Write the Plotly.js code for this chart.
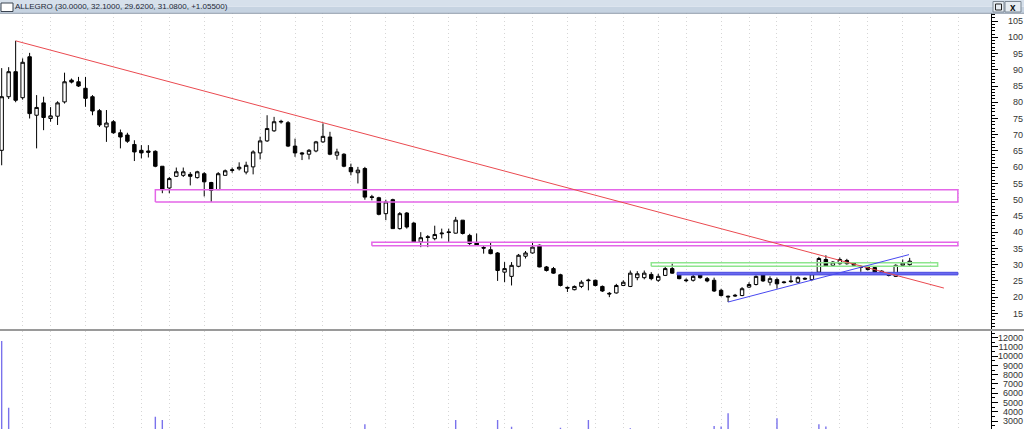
<!DOCTYPE html>
<html>
<head>
<meta charset="utf-8">
<script src="https://cdn.plot.ly/plotly-3.0.1.min.js"></script>
<style>
html,body{margin:0;padding:0;background:#fff;}
#chart{width:1024px;height:429px;}
</style>
</head>
<body>
<div id="chart"></div>
<script>
// ---- Data (weekly candles, index 0..130) ----
const opens = [65.2,81.7,89.4,81.4,94,76,79.8,75,75.7,80.1,86.8,86.3,84.3,81.7,77.4,72.4,74,70.6,69.9,67,
65.2,65,64.9,60.3,53.6,57.2,57.5,57.8,56.8,58,55.3,53.1,57.5,59,59.5,58.5,60.1,64.4,68.1,71.2,
73.9,73.7,66.5,64.4,64,65,67.8,69.3,63.7,64,59.9,58.3,59.6,50.9,50.6,45.7,50,41.1,45.9,42.8,
37,38.6,38,39.5,40.1,39.7,43.7,39,36.7,35.3,34.6,33.6,27.7,26.4,29.5,32.6,33.6,36,29.3,28.8,
26.9,23.0,22.3,23.3,25.3,25.2,23.3,21.2,21.3,23.6,23.3,26,26,27,25.2,26.7,28.8,27,25.3,25.2,
27,25.7,25.2,22.1,20.3,20.6,20.5,23.1,23.9,27,24.6,25.4,24.7,25,24.6,25.8,25.4,27.7,31.6,29.8,
30.3,31.3,30.5,29.4,29.3,29.1,28,27.4,26.4,29.8,30.0];
const highs = [90.5,90.8,98.9,93.5,95.2,82.2,81.7,78.5,80.3,89.1,87.3,87.8,87.8,82.2,77.9,77.6,74.5,71.6,70.6,68.3,
66.8,66.8,65.2,60.3,57,59.9,59.9,58.5,58.9,58.5,55.5,58.5,59.3,59.9,61.5,61.7,65.2,69.4,76,75.5,
74.6,74.2,68.8,64.7,65.6,68.1,73.5,70.9,65.7,64.3,61.1,60.1,60.1,51.5,50.9,50,50.3,46.2,46.2,43.1,
40,39.1,42,41.1,41.1,44.7,43.7,39.5,39.6,36,36.7,33.9,30.8,30.8,33.3,34.2,37,36.2,29.6,29.3,
27.2,23.3,23.6,25.2,25.7,25.4,23.6,21.6,24.1,25.2,28.2,28,28.2,27.7,27.2,29.3,30.3,27.2,25.8,27,
27.4,26.2,26,22.6,20.5,21,23.1,24.6,26.7,27.4,26.4,26,25,26.7,26.4,26.1,27.8,32.4,32.9,31.1,
32.2,31.8,30.8,29.8,29.6,29.4,28.3,27.7,30.1,31.6,32.1];
const lows = [60.6,81,80,80.8,75,65.8,71.4,74,73,79.6,85.8,84.7,78.6,76,72.4,67.8,70.3,65.8,67.5,61.9,
62.7,63,60,52,52,57,57,54.4,56.5,51,49.3,53,57.5,58.3,59,57.8,57.8,62.4,67.8,70.9,
73.4,66.2,63.2,62.2,62.4,64.6,67.5,63.7,62.3,60,57.5,55,50,49.8,45.2,43.7,41.1,40.8,41.1,36.7,
35.4,35.4,37.5,38.1,37,39.6,39.3,35.8,35.8,33.4,33.2,25,24.6,23.6,29.2,31.9,33.4,29.2,27.9,27.2,
23.3,21.6,22.1,22.8,22.1,23.3,21.6,20,21.1,23.4,23.1,25.2,25.5,25.2,24.7,26.5,27.2,25.5,24.6,24.8,
25.7,24.6,21.6,20.2,18.5,20.1,20.3,22.8,23.6,24.7,23.6,22.6,24.2,24.4,24.3,25.3,25.1,27.2,29.3,29.5,
30.0,30.0,29.5,27.8,28.2,27.4,27.1,26.4,26.2,29.5,29.62];
const closes = [81.7,89.4,80.6,92.3,76.5,78.4,75.3,75.8,79.8,86.3,86.2,85,81.2,77.3,73,73.6,70.6,69.3,68,64.7,
64.4,64.6,60.3,53.1,56.5,58.6,58.6,57.2,58.6,55.5,52.9,58,58.9,59.2,60,60.6,64.7,68.1,71.9,74,
74.1,66.5,64.4,64.1,65.2,67.8,69.5,64,64.7,60.3,58.6,59.1,50.8,50.7,45.5,49.3,41.1,45.7,41.6,37,
38.3,38.4,39.3,39.7,39.9,43.7,39.6,36.5,36,35.1,33.4,28.2,28.8,29.8,32.9,33.6,35.4,29.3,28.2,27.4,
23.6,22.8,23.3,24.6,25.1,23.6,21.9,21.0,23.6,24.6,27.4,27.2,27.4,25.7,26.4,28.8,27.4,25.7,25.1,26.4,
26,25,21.9,20.5,20.1,20.4,22.6,23.9,26.4,25,25.7,24.1,24.5,24.8,26,25.6,27.2,31.9,29.5,30.8,
31.6,30.3,29.8,29.2,28.5,27.7,27.4,26.7,29.8,30.5,31.08];
const volumes = [11640,4440,1900,1700,1500,1800,1400,1300,1200,1600,1500,1300,1400,1200,1500,1700,1300,1200,1400,1600,
1500,1800,3470,3110,1900,1300,1100,1200,1000,1500,1700,1600,1200,1100,1000,1300,1400,1200,1500,1300,
1100,1600,1400,1200,1000,1100,1300,1500,1200,1400,1600,1500,2650,1400,1800,1600,2000,1700,1500,1900,
1600,1300,1200,1100,1400,3110,1500,1300,1200,1400,1600,3110,1900,2390,1700,1500,1400,1900,1300,1200,
2280,1500,1300,1200,3110,1400,1300,1200,1100,1300,2210,1400,1200,1100,1000,1300,1200,1500,1200,1100,
1300,1500,2460,2400,3830,1600,1400,1300,1500,1200,1400,3290,1300,1200,1100,1000,1300,2650,2400,1600,
1400,1300,1200,1500,1300,1400,1200,1100,1800,1500,1700];
const idx = opens.map((_, i) => i);

// month boundaries (candle index) used as vertical dotted grid lines
const monthStarts = [3,7,12,16,20,24,29,33,37,42,46,50,55,59,64,68,72,76,81,85,89,94,98,103,107,111,116,120,124,129,133,137];
const priceTicks = [15,20,25,30,35,40,45,50,55,60,65,70,75,80,85,90,95,100,105];
const volTicks = [3000,4000,5000,6000,7000,8000,9000,10000,11000,12000];
const volTickText = volTicks.map(String);

// drawn studies (candle index, price)
const redTrendX = [2, 134.9], redTrendY = [98.9, 22.8];
const blueTrendX = [104, 129.9], blueTrendY = [18.5, 33.1];
const zoneUpperX = [22, 136.9], zoneUpperY = [49.3, 53.1];
const zoneMidX = [53, 136.9], zoneMidY = [35.8, 36.9];
const zoneGreenX = [93, 134], zoneGreenY = [29.5, 30.6];
const zoneBlueX = [96.7, 136.9], zoneBlueY = [26.85, 27.65];

const titleText = 'ALLEGRO (30.0000, 32.1000, 29.6200, 31.0800, +1.05500)';

function rectTrace(xs, ys, color, width, fill) {
  return {
    type: 'scatter', mode: 'lines', xaxis: 'x', yaxis: 'y',
    x: [xs[0], xs[1], xs[1], xs[0], xs[0]],
    y: [ys[0], ys[0], ys[1], ys[1], ys[0]],
    line: {color: color, width: width},
    fill: fill ? 'toself' : 'none', fillcolor: fill || 'rgba(0,0,0,0)',
    hoverinfo: 'skip', showlegend: false
  };
}

const traces = [
  {
    type: 'candlestick', x: idx, open: opens, high: highs, low: lows, close: closes,
    xaxis: 'x', yaxis: 'y',
    increasing: {line: {color: '#000', width: 1}, fillcolor: '#ffffff'},
    decreasing: {line: {color: '#000', width: 1}, fillcolor: '#000000'},
    whiskerwidth: 0, hoverinfo: 'skip', showlegend: false
  },
  rectTrace(zoneUpperX, zoneUpperY, '#e466e8', 1.5),
  rectTrace(zoneMidX, zoneMidY, '#e466e8', 1.5),
  rectTrace(zoneGreenX, zoneGreenY, '#8ee68e', 1.5),
  rectTrace(zoneBlueX, zoneBlueY, '#4a4ae0', 1, '#6a6aee'),
  {type: 'scatter', mode: 'lines', x: redTrendX, y: redTrendY, xaxis: 'x', yaxis: 'y',
   line: {color: '#ea4a50', width: 1}, hoverinfo: 'skip', showlegend: false},
  {type: 'scatter', mode: 'lines', x: blueTrendX, y: blueTrendY, xaxis: 'x', yaxis: 'y',
   line: {color: '#4848f0', width: 1}, hoverinfo: 'skip', showlegend: false},
  {type: 'bar', x: idx, y: volumes, xaxis: 'x', yaxis: 'y2', width: 0.2,
   marker: {color: '#7a72ec', line: {width: 0}}, hoverinfo: 'skip', showlegend: false},
  {type: 'scatter', x: [], y: [], xaxis: 'x', yaxis: 'y3', hoverinfo: 'skip', showlegend: false},
  {type: 'scatter', x: [], y: [], xaxis: 'x', yaxis: 'y4', hoverinfo: 'skip', showlegend: false}
];

const H = 416; // plot height in px (429 - 13)
const py = p => (429 - p) / H; // pixel row -> paper y
const px = p => p / 1024;

const labelFont = {family: 'Liberation Sans, Arial, sans-serif', size: 9, color: '#333'};

const layout = {
  width: 1024, height: 429,
  margin: {l: 0, r: 0, t: 13, b: 0, pad: 0},
  paper_bgcolor: '#ffffff', plot_bgcolor: '#ffffff',
  showlegend: false, dragmode: false, hovermode: false,
  title: {
    text: titleText, x: px(15), xanchor: 'left', xref: 'container',
    y: 1 - 6.5 / 429, yanchor: 'middle', yref: 'container',
    font: {family: 'Liberation Sans, Arial, sans-serif', size: 8, color: '#1c2836'}
  },
  xaxis: {
    domain: [0, 0.9675], range: [-0.24, 141.6], anchor: 'y',
    tickvals: monthStarts, showticklabels: false, ticks: '',
    showgrid: true, gridcolor: '#d6d6d6', griddash: '1px,3px', gridwidth: 1,
    zeroline: false, showline: false, fixedrange: true,
    rangeslider: {visible: false}
  },
  yaxis: {
    domain: [0.2385, 1], range: [9.96, 107.47], side: 'right', anchor: 'x',
    showline: true, linecolor: '#000', linewidth: 1,
    ticks: 'outside', ticklen: 6, tickcolor: '#000', tickwidth: 1,
    tick0: 0, dtick: 5, showticklabels: false,
    minor: {tick0: 0, dtick: 1, ticks: 'outside', ticklen: 3, tickcolor: '#000', showgrid: false},
    showgrid: false, zeroline: false, fixedrange: true
  },
  yaxis3: {
    overlaying: 'y', side: 'left', anchor: 'free', position: 0.999,
    range: [9.96, 107.47], tickvals: priceTicks, ticks: '',
    showline: false, showgrid: false, zeroline: false,
    tickfont: labelFont, fixedrange: true
  },
  yaxis2: {
    domain: [0, 0.2355], range: [2136, 12724], side: 'right', anchor: 'x',
    showline: true, linecolor: '#000', linewidth: 1,
    ticks: 'outside', ticklen: 6, tickcolor: '#000', tickwidth: 1,
    tick0: 0, dtick: 1000, showticklabels: false,
    minor: {tick0: 0, dtick: 500, ticks: 'outside', ticklen: 3, tickcolor: '#000', showgrid: false},
    showgrid: false, zeroline: false, fixedrange: true
  },
  yaxis4: {
    overlaying: 'y2', side: 'left', anchor: 'free', position: 0.999,
    range: [2136, 12724], tickvals: volTicks, ticktext: volTickText, ticks: '',
    showline: false, showgrid: false, zeroline: false,
    tickfont: labelFont, fixedrange: true
  },
  shapes: [
    // window title bar
    {type: 'rect', xref: 'paper', yref: 'paper', x0: 0, x1: 1, y0: py(13), y1: py(6.5),
     fillcolor: '#c6d3e1', line: {width: 0}, layer: 'below'},
    {type: 'rect', xref: 'paper', yref: 'paper', x0: 0, x1: 1, y0: py(6.5), y1: py(0),
     fillcolor: '#d6e0eb', line: {width: 0}, layer: 'below'},
    {type: 'line', xref: 'paper', yref: 'paper', x0: 0, x1: 1, y0: py(13.3), y1: py(13.3),
     line: {color: '#8f9caa', width: 1}},
    // title icon
    {type: 'rect', xref: 'paper', yref: 'paper', x0: px(1), x1: px(13), y0: py(11.5), y1: py(3),
     fillcolor: '#ffffff', line: {color: '#3a4450', width: 1}},
    // window buttons
    {type: 'rect', xref: 'paper', yref: 'paper', x0: px(993), x1: px(1004), y0: py(12), y1: py(1.5),
     fillcolor: '#e6ecf2', line: {color: '#7d8894', width: 1}},
    {type: 'rect', xref: 'paper', yref: 'paper', x0: px(995.5), x1: px(1001.5), y0: py(10), y1: py(4),
     fillcolor: 'rgba(0,0,0,0)', line: {color: '#222', width: 1}},
    {type: 'rect', xref: 'paper', yref: 'paper', x0: px(1005), x1: px(1021), y0: py(12), y1: py(1.5),
     fillcolor: '#e6ecf2', line: {color: '#7d8894', width: 1}},
    // pane separator
    {type: 'line', xref: 'paper', yref: 'paper', x0: 0, x1: 1, y0: py(330), y1: py(330),
     line: {color: '#9a9a9a', width: 2}}
  ],
  annotations: [
    {text: '<b>x</b>', xref: 'paper', yref: 'paper', x: px(1013), y: py(7), xanchor: 'center', yanchor: 'middle',
     showarrow: false, font: {family: 'Liberation Sans, Arial, sans-serif', size: 10, color: '#111'}}
  ]
};

Plotly.newPlot('chart', traces, layout, {displayModeBar: false, staticPlot: true});
</script>
</body>
</html>
